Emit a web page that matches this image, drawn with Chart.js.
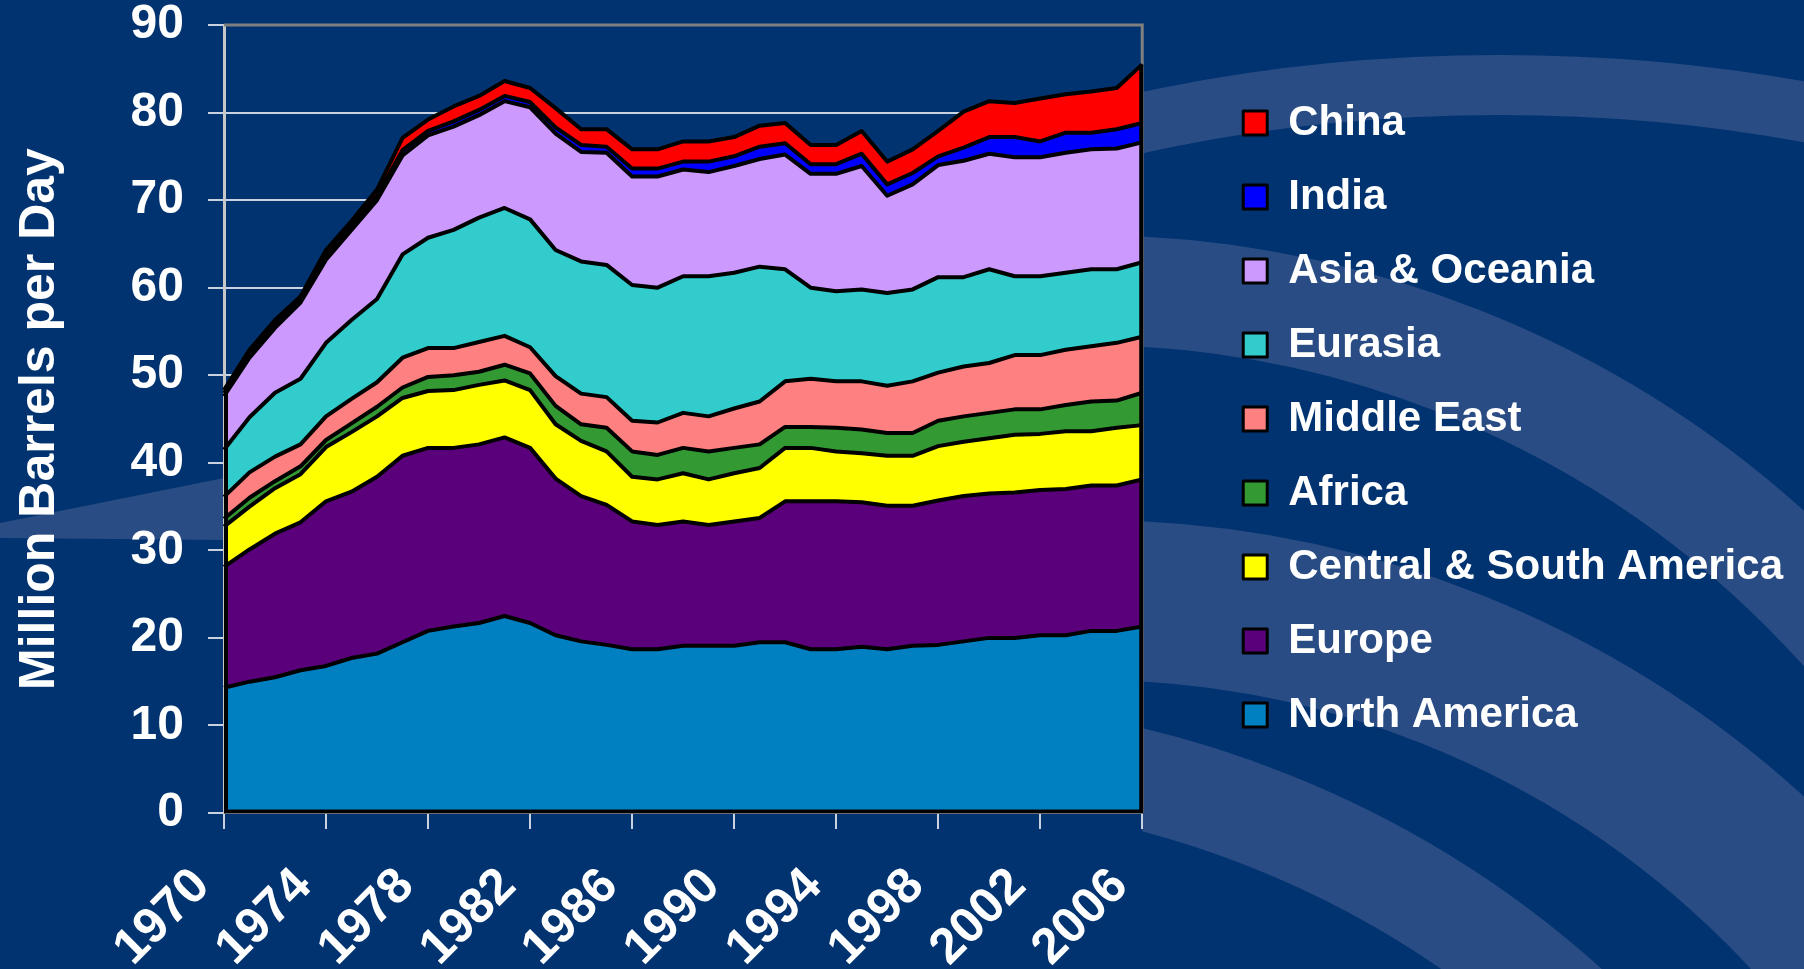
<!DOCTYPE html>
<html><head><meta charset="utf-8">
<script src="https://cdn.jsdelivr.net/npm/chart.js@4.4.0/dist/chart.umd.min.js"></script>
<style>html,body{margin:0;padding:0;background:#003370;overflow:hidden}canvas{display:block}</style>
</head><body>
<canvas id="c" width="1804" height="969"></canvas>
<script>
// ---- data (million barrels per day) ----
const years = ['1970','1971','1972','1973','1974','1975','1976','1977','1978','1979','1980','1981','1982','1983','1984','1985','1986','1987','1988','1989','1990','1991','1992','1993','1994','1995','1996','1997','1998','1999','2000','2001','2002','2003','2004','2005','2006'];
const northAmerica = [14.3,15.0,15.5,16.3,16.8,17.7,18.2,19.5,20.8,21.3,21.7,22.5,21.7,20.3,19.6,19.2,18.7,18.7,19.1,19.1,19.1,19.5,19.5,18.7,18.7,19.0,18.7,19.1,19.2,19.6,20.0,20.0,20.3,20.3,20.8,20.8,21.3];
const europe = [13.8,15.1,16.4,16.9,18.8,19.0,20.2,21.3,20.9,20.4,20.4,20.4,20.0,17.9,16.6,16.0,14.6,14.2,14.2,13.8,14.2,14.2,16.1,16.9,16.9,16.5,16.4,16.0,16.5,16.6,16.5,16.6,16.6,16.7,16.6,16.6,16.8];
const centralSouthAmerica = [4.6,4.9,5.2,5.5,6.2,6.8,6.9,6.6,6.5,6.6,6.8,6.5,6.6,6.2,6.3,6.1,5.1,5.2,5.5,5.2,5.5,5.7,6.1,6.1,5.7,5.6,5.7,5.7,6.2,6.2,6.3,6.6,6.4,6.6,6.2,6.6,6.2];
const africa = [0.9,1.0,0.8,0.9,0.8,1.0,1.1,1.2,1.6,1.7,1.5,1.8,1.9,2.1,1.9,2.7,2.9,2.8,2.9,3.2,2.9,2.7,2.4,2.4,2.7,2.7,2.6,2.6,2.9,2.9,2.9,2.9,2.8,3.0,3.4,3.1,3.7];
const middleEast = [2.5,2.9,2.8,2.5,2.7,2.8,2.8,3.4,3.3,3.1,3.4,3.3,3.0,3.4,3.5,3.5,3.5,3.7,4.0,4.0,4.5,4.9,5.2,5.5,5.3,5.5,5.4,5.9,5.5,5.7,5.7,6.2,6.2,6.3,6.3,6.6,6.4];
const eurasia = [5.4,6.3,7.3,7.5,8.4,9.0,9.5,11.8,12.6,13.5,14.2,14.6,14.6,14.4,15.1,15.1,15.5,15.4,15.6,16.0,15.5,15.4,12.8,10.4,10.3,10.5,10.6,10.5,10.9,10.2,10.7,9.0,9.0,8.8,8.8,8.4,8.5];
const asiaOceania = [6.1,6.8,7.4,8.7,9.5,10.3,11.3,11.3,11.7,11.8,11.7,12.2,12.8,13.3,12.5,12.8,12.4,12.7,12.2,11.9,12.2,12.3,13.1,13.0,13.4,14.1,11.1,12.0,12.8,13.3,13.2,13.6,13.6,13.7,13.7,13.8,13.7];
const india = [0.35,0.4,0.4,0.35,0.45,0.45,0.5,0.6,0.5,0.6,0.6,0.6,0.6,0.7,0.8,0.7,0.9,0.9,0.9,1.2,1.1,1.4,1.3,1.1,1.1,1.4,1.3,1.3,1.0,1.5,1.9,2.3,1.8,2.3,1.9,2.2,2.2];
const china = [0.35,0.5,0.5,0.35,0.65,0.55,0.7,1.4,1.3,1.7,1.6,1.7,1.6,2.2,1.8,2.0,2.2,2.2,2.3,2.3,2.2,2.4,2.3,2.2,2.2,2.6,2.6,2.7,2.9,4.1,4.1,3.9,4.9,4.4,4.7,4.7,6.7];

const seriesLabels = ['North America','Europe','Central & South America','Africa','Middle East','Eurasia','Asia & Oceania','India','China'];
const seriesData = [northAmerica, europe, centralSouthAmerica, africa, middleEast, eurasia, asiaOceania, india, china];
const seriesColors = ['#0080C0','#5A007A','#FFFF00','#339933','#FF8080','#33CCCC','#CC99FF','#0000FF','#FF0000'];
const yTitle = 'Million Barrels per Day';

// ---- styling ----
const BG = '#003370';
const BAND = '#2a4c84';
const GRID = '#c8d2e0';
const FONT = '"Liberation Sans", Arial, sans-serif';
const LEGEND_FONT = 42, LEGEND_BOX = 24, LEGEND_PAD = 32;

const mctx = document.createElement('canvas').getContext('2d');
mctx.font = 'bold 50px "Liberation Sans Narrow", "Liberation Sans", sans-serif';
const titleSize = Math.round(50 * 543 / mctx.measureText(yTitle).width);
mctx.font = 'bold ' + LEGEND_FONT + 'px ' + FONT;
const maxLegendText = Math.max(...seriesLabels.map(t => mctx.measureText(t).width));
const legendW = Math.ceil(LEGEND_PAD + LEGEND_BOX + LEGEND_FONT / 2 + maxLegendText + 10);
const legendLeft = 1243 - LEGEND_PAD;
const padR = Math.max(0, 1804 - legendLeft - legendW);

const bgPlugin = {
  id: 'bgSwoosh',
  beforeDraw(chart) {
    const {ctx, chartArea: a, width, height} = chart;
    ctx.save();
    ctx.fillStyle = BG;
    ctx.fillRect(0, 0, width, height);
    ctx.fillStyle = BAND;
    ctx.beginPath();
    ctx.moveTo(0, 523); ctx.lineTo(a.left, 478); ctx.lineTo(a.left, 540); ctx.lineTo(0, 538);
    ctx.closePath(); ctx.fill();
    ctx.beginPath();
    ctx.rect(a.right, 0, width - a.right, height);
    ctx.clip();
    ctx.strokeStyle = BAND;
    ctx.lineWidth = 60;
    ctx.beginPath(); ctx.ellipse(1500, 542, 900, 457, 0, Math.PI, 2 * Math.PI); ctx.stroke();
    ctx.lineWidth = 110;
    ctx.beginPath(); ctx.arc(1085, 1310, 1020, Math.PI, 2 * Math.PI); ctx.stroke();
    ctx.lineWidth = 160;
    ctx.beginPath(); ctx.arc(1090, 1580, 980, Math.PI, 2 * Math.PI); ctx.stroke();
    ctx.lineWidth = 100;
    ctx.beginPath(); ctx.arc(900, 1750, 1000, Math.PI, 2 * Math.PI); ctx.stroke();
    ctx.restore();
    ctx.save();
    ctx.fillStyle = BG;
    ctx.fillRect(a.left, a.top, a.right - a.left, a.bottom - a.top);
    ctx.restore();
  },
  beforeDatasetsDraw(chart) {
    const {ctx, chartArea: a} = chart;
    ctx.save();
    ctx.strokeStyle = '#808080';
    ctx.lineWidth = 3;
    ctx.beginPath();
    ctx.moveTo(a.left, a.top); ctx.lineTo(a.right, a.top); ctx.lineTo(a.right, a.bottom);
    ctx.stroke();
    ctx.restore();
  },
  afterDatasetsDraw(chart) {
    const {ctx} = chart;
    const xs = chart.scales.x, ys = chart.scales.y;
    const n = years.length - 1;
    const total = i => seriesData.reduce((s, d) => s + d[i], 0);
    const x0 = xs.getPixelForValue(0) + 2, xN = xs.getPixelForValue(n) - 1;
    const y0 = ys.getPixelForValue(0) - 1.5;
    ctx.save();
    ctx.strokeStyle = '#000';
    ctx.lineWidth = 4;
    ctx.beginPath();
    ctx.moveTo(x0, ys.getPixelForValue(total(0)));
    ctx.lineTo(x0, y0);
    ctx.lineTo(xN, y0);
    ctx.lineTo(xN, ys.getPixelForValue(total(n)));
    ctx.stroke();
    ctx.restore();
  }
};

new Chart(document.getElementById('c'), {
  type: 'line',
  data: {
    labels: years,
    datasets: seriesData.map((d, i) => ({
      label: seriesLabels[i],
      data: d,
      backgroundColor: seriesColors[i],
      borderColor: '#000',
      borderWidth: 4,
      borderJoinStyle: 'round',
      pointRadius: 0,
      pointHoverRadius: 0,
      tension: 0,
      fill: i === 0 ? 'origin' : '-1'
    }))
  },
  options: {
    responsive: false,
    animation: false,
    events: [],
    layout: { padding: { top: 25, left: 0, bottom: 0, right: padR } },
    plugins: {
      tooltip: { enabled: false },
      legend: {
        position: 'right',
        align: 'center',
        fullSize: false,
        reverse: true,
        maxWidth: 1000,
        labels: {
          color: '#ffffff',
          font: { family: FONT, weight: 'bold', size: LEGEND_FONT },
          boxWidth: LEGEND_BOX,
          boxHeight: LEGEND_BOX,
          padding: LEGEND_PAD,
          generateLabels: chart => Chart.defaults.plugins.legend.labels.generateLabels(chart)
            .map(l => Object.assign(l, { lineWidth: 3, strokeStyle: '#000' }))
        }
      }
    },
    scales: {
      x: {
        type: 'category',
        offset: false,
        grid: { display: true, drawOnChartArea: false, drawTicks: true, tickLength: 16, color: GRID, lineWidth: 2 },
        border: { display: true, color: '#d8dee8', width: 2 },
        ticks: {
          autoSkip: false, minRotation: 45, maxRotation: 45,
          color: '#ffffff',
          font: { family: FONT, weight: 'bold', size: 50 },
          padding: 28, labelOffset: -22,
          callback: (v, i) => (i % 4 === 0 ? years[i] : null)
        },
        afterFit: s => { s.height = 156; s.paddingLeft = 0; s.paddingRight = 0; }
      },
      y: {
        stacked: true, min: 0, max: 90,
        ticks: { stepSize: 10, color: '#ffffff', font: { family: FONT, weight: 'bold', size: 48, lineHeight: 1 }, padding: 24 },
        grid: { color: GRID, lineWidth: 2, tickLength: 16 },
        border: { color: '#c8c8c8', width: 3 },
        title: {
          display: true, text: yTitle, color: '#ffffff',
          font: { family: '"Liberation Sans Narrow", "Liberation Sans", sans-serif', weight: 'bold', size: titleSize },
          padding: { top: 10, bottom: 0 }
        },
        afterFit: s => { s.width = 224; s.paddingTop = 0; s.paddingBottom = 0; }
      },
      yr: {
        type: 'linear', position: 'right', display: true, min: 0, max: 1,
        ticks: { display: false }, grid: { display: false }, border: { display: false },
        afterFit: s => { s.width = 69; s.paddingTop = 0; s.paddingBottom = 0; }
      }
    }
  },
  plugins: [bgPlugin]
});
</script>
</body></html>
